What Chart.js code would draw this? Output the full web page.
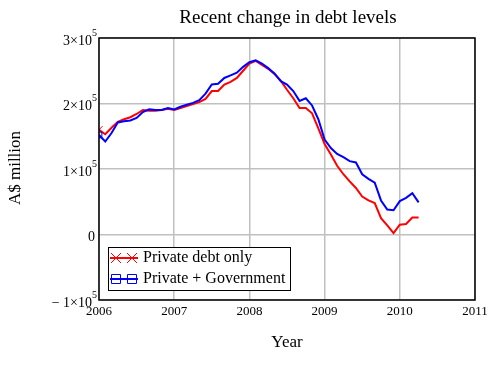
<!DOCTYPE html>
<html>
<head>
<meta charset="utf-8">
<script src="https://cdn.jsdelivr.net/npm/chart.js@4/dist/chart.umd.min.js"></script>
<style>
  html, body { margin: 0; padding: 0; background: #fff; }
  #wrap { width: 497px; height: 373px; }
</style>
</head>
<body>
<div id="wrap"><canvas id="debtChart" width="497" height="373"></canvas></div>
<script>
// monthly series, January 2006 to April 2010 (A$ million)
var startYear = 2006;
var privateDebt = [
  160000, 153000, 163000, 172000, 176000, 179000, 184000, 190000, 189000, 189000, 190000, 192000,
  190000, 193000, 196000, 199000, 202000, 207000, 219000, 219000, 229000, 233000, 239000, 250000,
  261000, 265000, 259000, 253000, 245000, 235000, 221000, 208000, 193000, 193000, 185000, 162000,
  138000, 122000, 105000, 92000, 81000, 71000, 58000, 52000, 48000, 25000, 14000, 2000,
  15000, 16000, 26000, 26000
];
var privateGovt = [
  152000, 142000, 155000, 171000, 173000, 174000, 178000, 187000, 191000, 190000, 190000, 193000,
  191000, 195000, 198000, 201000, 205000, 215000, 229000, 230000, 239000, 243000, 247000, 256000,
  263000, 266000, 261000, 254000, 246000, 234000, 229000, 219000, 204000, 208000, 197000, 176000,
  145000, 132000, 123000, 118000, 112000, 110000, 92000, 85000, 79000, 52000, 38000, 37000,
  51000, 56000, 63000, 49000
];
var seriesNames = ["Private debt only", "Private + Government"];
var yTicks = [
  { v: 300000, m: "3×10", e: "5" },
  { v: 200000, m: "2×10", e: "5" },
  { v: 100000, m: "1×10", e: "5" },
  { v: 0, m: "0", e: "" },
  { v: -100000, m: "− 1×10", e: "5" }
];
var xTicks = [2006, 2007, 2008, 2009, 2010, 2011];

function toPoints(arr) {
  return arr.map(function (v, i) { return { x: startYear + i / 12, y: v }; });
}

var serif = "'Liberation Serif', 'DejaVu Serif', serif";

var decorations = {
  id: "decorations",
  afterDraw: function (chart) {
    var ctx = chart.ctx;
    var a = chart.chartArea;
    var xs = chart.scales.x, ys = chart.scales.y;
    ctx.save();
    // plot frame
    ctx.strokeStyle = "#000";
    ctx.lineWidth = 1.5;
    ctx.strokeRect(a.left, a.top, a.right - a.left, a.bottom - a.top);

    ctx.fillStyle = "#000";
    // title
    ctx.font = "19px " + serif;
    ctx.textAlign = "center";
    ctx.textBaseline = "middle";
    ctx.fillText("Recent change in debt levels", 288, 18);

    // x ticks
    ctx.font = "13px " + serif;
    ctx.textBaseline = "top";
    xTicks.forEach(function (t) {
      ctx.fillText(String(t), xs.getPixelForValue(t), 305);
    });

    // y ticks with exponent
    yTicks.forEach(function (t) {
      var py = ys.getPixelForValue(t.v) + 3;
      var right = 97;
      ctx.textBaseline = "middle";
      ctx.textAlign = "right";
      if (t.e) {
        ctx.font = "10px " + serif;
        var ew = ctx.measureText(t.e).width;
        ctx.fillText(t.e, right, py - 8);
        ctx.font = "14px " + serif;
        ctx.fillText(t.m, right - ew, py);
      } else {
        ctx.font = "14px " + serif;
        ctx.fillText(t.m, right - 2, py);
      }
    });

    // axis titles
    ctx.font = "17px " + serif;
    ctx.textAlign = "center";
    ctx.textBaseline = "middle";
    ctx.fillText("Year", 287, 343);
    ctx.save();
    ctx.translate(16, 168);
    ctx.rotate(-Math.PI / 2);
    ctx.fillText("A$ million", 0, 0);
    ctx.restore();

    // legend
    ctx.fillStyle = "#fff";
    ctx.fillRect(108, 247, 182, 43);
    ctx.strokeStyle = "#000";
    ctx.lineWidth = 1;
    ctx.strokeRect(108.5, 247.5, 182, 43);
    var rows = [
      { y: 258, color: "#ff0000", style: "cross" },
      { y: 279, color: "#0000ff", style: "rect" }
    ];
    rows.forEach(function (r, i) {
      ctx.strokeStyle = r.color;
      ctx.lineWidth = 2;
      ctx.beginPath();
      ctx.moveTo(110, r.y);
      ctx.lineTo(138, r.y);
      ctx.stroke();
      ctx.lineWidth = 1;
      [116, 132].forEach(function (mx) {
        ctx.beginPath();
        if (r.style === "cross") {
          ctx.moveTo(mx - 5, r.y - 5); ctx.lineTo(mx + 5, r.y + 5);
          ctx.moveTo(mx + 5, r.y - 5); ctx.lineTo(mx - 5, r.y + 5);
        } else {
          ctx.rect(mx - 4.5, r.y - 4.5, 9, 9);
        }
        ctx.stroke();
      });
      ctx.fillStyle = "#000";
      ctx.font = "16px " + serif;
      ctx.textAlign = "left";
      ctx.textBaseline = "middle";
      ctx.fillText(seriesNames[i], 143, r.y);
    });
    ctx.restore();
  }
};

var config = {
  type: "line",
  data: {
    datasets: [{
      label: seriesNames[0],
      data: toPoints(privateDebt),
      borderColor: "#ff0000",
      backgroundColor: "#ff0000",
      borderWidth: 2,
      pointRadius: privateDebt.map(function (v, i) { return i === 0 ? 5 : 0; }),
      pointStyle: "crossRot",
      pointBorderWidth: 1,
      tension: 0,
      order: 2
    }, {
      label: seriesNames[1],
      data: toPoints(privateGovt),
      borderColor: "#0000ff",
      backgroundColor: "rgba(0,0,0,0)",
      borderWidth: 2,
      pointRadius: privateGovt.map(function (v, i) { return i === 0 ? 4 : 0; }),
      pointStyle: "rect",
      pointBorderWidth: 1,
      tension: 0,
      order: 1
    }]
  },
  options: {
    responsive: false,
    animation: false,
    layout: { padding: { left: 99, top: 38, right: 22, bottom: 73 } },
    plugins: {
      legend: { display: false },
      title: { display: false },
      tooltip: { enabled: false }
    },
    scales: {
      x: {
        type: "linear",
        min: 2006,
        max: 2011,
        ticks: { display: false, stepSize: 1 },
        grid: { color: "#c0c0c0", lineWidth: 1.5, drawTicks: false },
        border: { display: false }
      },
      y: {
        min: -100000,
        max: 300000,
        ticks: { display: false, stepSize: 100000 },
        grid: { color: "#c0c0c0", lineWidth: 1.5, drawTicks: false },
        border: { display: false }
      }
    }
  },
  plugins: [decorations]
};

var debtChart = new Chart(document.getElementById("debtChart"), config);
</script>
</body>
</html>
